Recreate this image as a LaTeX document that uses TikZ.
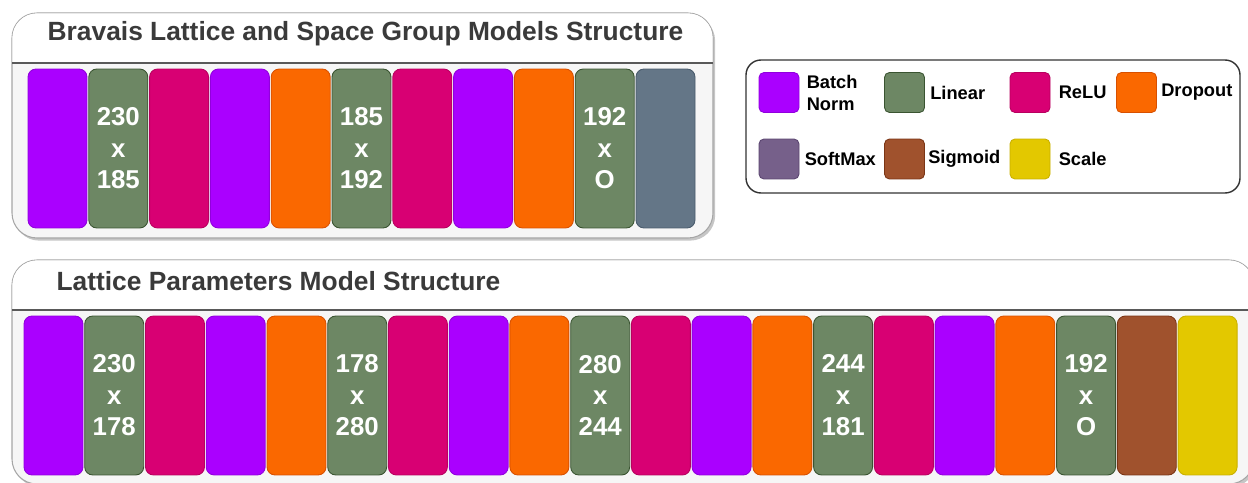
\documentclass[tikz,border=0pt]{standalone}
\usepackage{fontspec}
\setmainfont{Liberation Sans}
\usepackage{xcolor}
\usepackage{tikz}
\usetikzlibrary{positioning}
\usetikzlibrary{shadows}

\definecolor{bnfill}{HTML}{AA00FF}
\definecolor{bnline}{HTML}{9100DD}
\definecolor{linfill}{HTML}{6D8764}
\definecolor{linline}{HTML}{3A5431}
\definecolor{relufill}{HTML}{D80073}
\definecolor{reluline}{HTML}{B8005F}
\definecolor{dropfill}{HTML}{FA6800}
\definecolor{dropline}{HTML}{D85000}
\definecolor{smfill}{HTML}{76608A}
\definecolor{smline}{HTML}{5A4570}
\definecolor{sigfill}{HTML}{A0522D}
\definecolor{sigline}{HTML}{7A3515}
\definecolor{scalefill}{HTML}{E3C800}
\definecolor{scaleline}{HTML}{C9B000}
\definecolor{outfill}{HTML}{647687}
\definecolor{outline}{HTML}{4A5C6D}
\definecolor{titlegray}{HTML}{3A3A3A}
\definecolor{bodygray}{HTML}{F6F6F6}

\tikzset{
  layer/.style={rectangle, rounded corners=0.16cm, minimum width=1.18cm,
    minimum height=3.18cm, line width=0.5pt, text=white, align=center,
    font=\fontsize{14.7}{17.9}\selectfont\bfseries},
  batchnorm/.style={layer, fill=bnfill, draw=bnline},
  linear/.style={layer, fill=linfill, draw=linline},
  relu/.style={layer, fill=relufill, draw=reluline},
  dropout/.style={layer, fill=dropfill, draw=dropline},
  sigmoid/.style={layer, fill=sigfill, draw=sigline},
  scalelayer/.style={layer, fill=scalefill, draw=scaleline},
  outlayer/.style={layer, fill=outfill, draw=outline},
  swatch/.style={rectangle, rounded corners=0.1cm, minimum size=0.8cm, line width=0.5pt},
  keytext/.style={inner sep=0pt, align=left, font=\fontsize{10.4}{12.5}\selectfont\bfseries},
  paneltitle/.style={font=\fontsize{15}{18}\selectfont\bfseries, text=titlegray},
  panel/.style={rounded corners=0.5cm, draw=gray!70, line width=0.6pt, fill=bodygray,
    drop shadow={opacity=0.45, shadow xshift=1.2pt, shadow yshift=-1.5pt}},
}

\begin{document}
\begin{tikzpicture}[x=0.02cm, y=-0.02cm]
\useasboundingbox (0,0) rectangle (1248,483);

% top panel
\draw [panel] (12,13) rectangle (713,238);
\fill [white, rounded corners=0.5cm] (12.3,63) -- (12.3,13.3) -- (712.7,13.3) [sharp corners] -- (712.7,63) -- cycle;
\draw [draw=black!65, line width=1pt] (12,63) -- (713,63);
\node [paneltitle] (TitleA) at (365.5,34) {Bravais Lattice and Space Group Models Structure};

\node [batchnorm] (A1) at (57.5,148.5) {};
\node [linear] (A2) at (118.3,148.5) {230\\x\\185};
\node [relu] (A3) at (179.1,148.5) {};
\node [batchnorm] (A4) at (239.9,148.5) {};
\node [dropout] (A5) at (300.7,148.5) {};
\node [linear] (A6) at (361.5,148.5) {185\\x\\192};
\node [relu] (A7) at (422.3,148.5) {};
\node [batchnorm] (A8) at (483.1,148.5) {};
\node [dropout] (A9) at (543.9,148.5) {};
\node [linear] (A10) at (604.7,148.5) {192\\x\\O};
\node [outlayer] (A11) at (665.5,148.5) {};

% bottom panel
\draw [panel] (12,260) rectangle (1254,484);
\fill [white, rounded corners=0.5cm] (12.3,310) -- (12.3,260.3) -- (1253.7,260.3) [sharp corners] -- (1253.7,310) -- cycle;
\draw [draw=black!65, line width=1pt] (12,310) -- (1254,310);
\node [paneltitle] (TitleB) at (278.5,281) {Lattice Parameters Model Structure};

\node [batchnorm] (B1) at (53.5,395.5) {};
\node [linear] (B2) at (114.2,395.5) {230\\x\\178};
\node [relu] (B3) at (175.0,395.5) {};
\node [batchnorm] (B4) at (235.7,395.5) {};
\node [dropout] (B5) at (296.5,395.5) {};
\node [linear] (B6) at (357.2,395.5) {178\\x\\280};
\node [relu] (B7) at (417.9,395.5) {};
\node [batchnorm] (B8) at (478.7,395.5) {};
\node [dropout] (B9) at (539.4,395.5) {};
\node [linear] (B10) at (600.2,395.5) {280\\x\\244};
\node [relu] (B11) at (660.9,395.5) {};
\node [batchnorm] (B12) at (721.6,395.5) {};
\node [dropout] (B13) at (782.4,395.5) {};
\node [linear] (B14) at (843.1,395.5) {244\\x\\181};
\node [relu] (B15) at (903.9,395.5) {};
\node [batchnorm] (B16) at (964.6,395.5) {};
\node [dropout] (B17) at (1025.3,395.5) {};
\node [linear] (B18) at (1086.1,395.5) {192\\x\\O};
\node [sigmoid] (B19) at (1146.8,395.5) {};
\node [scalelayer] (B20) at (1207.6,395.5) {};

% legend
\draw [draw=black!80, line width=0.8pt, rounded corners=0.3cm, fill=white] (746,60) rectangle (1240,193);
\node [swatch, fill=bnfill, draw=bnline] (KeyBN) at (779,92.5) {};
\node [swatch, fill=linfill, draw=linline] (KeyLin) at (904.5,92.5) {};
\node [swatch, fill=relufill, draw=reluline] (KeyReLU) at (1030,92.5) {};
\node [swatch, fill=dropfill, draw=dropline] (KeyDrop) at (1136.5,92.5) {};
\node [swatch, fill=smfill, draw=smline] (KeySM) at (779,159) {};
\node [swatch, fill=sigfill, draw=sigline] (KeySig) at (904.5,159) {};
\node [swatch, fill=scalefill, draw=scaleline] (KeyScale) at (1030,159) {};
\node [keytext, right=0.14cm of KeyBN] (TxtBN) {Batch\\Norm};
\node [keytext, right=0.1cm of KeyLin] (TxtLin) {Linear};
\node [keytext, right=0.16cm of KeyReLU] (TxtReLU) {ReLU};
\node [keytext, right=0.08cm of KeyDrop] (TxtDrop) {Dropout};
\node [keytext, right=0.1cm of KeySM] (TxtSM) {SoftMax};
\node [keytext, right=0.06cm of KeySig] (TxtSig) {Sigmoid};
\node [keytext, right=0.16cm of KeyScale] (TxtScale) {Scale};
\end{tikzpicture}
\end{document}
